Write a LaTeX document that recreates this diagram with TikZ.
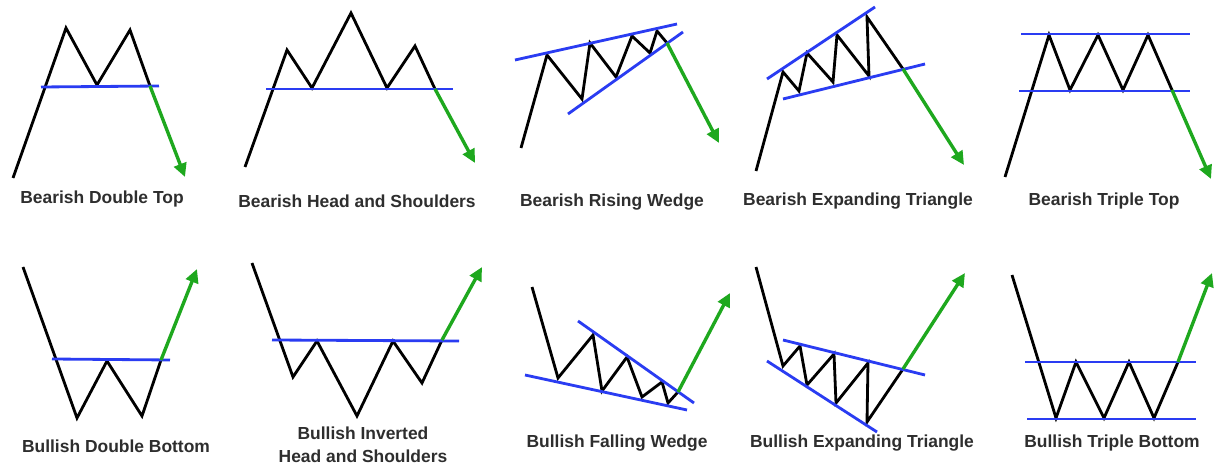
\documentclass[tikz,border=0pt]{standalone}
\usepackage{fontspec}
\setmainfont{Liberation Sans}
\usetikzlibrary{arrows.meta}
\definecolor{trendblue}{HTML}{2A3CF2}
\definecolor{breakgreen}{HTML}{1EA81E}
\definecolor{labelgray}{HTML}{2E2E2E}

\begin{document}
\begin{tikzpicture}[
    x=0.025cm, y=-0.025cm,
    price/.style={draw=black, line width=2pt},
    trend/.style={draw=trendblue, line width=2pt},
    breakout/.style={-{Triangle[length=0.34cm,width=0.32cm]}, draw=breakgreen, line width=2.4pt},
    caption/.style={font=\bfseries\fontsize{12.4}{16.3}\selectfont, text=labelgray, align=center, inner sep=0pt},
]
\useasboundingbox[fill=white] (0,0) rectangle (1218,465);

% Bearish Double Top
\coordinate (dt0) at (13,178);
\coordinate (dt1) at (66,28);
\coordinate (dt2) at (97,85);
\coordinate (dt3) at (130,30);
\coordinate (dt4) at (150,86);
\coordinate (dtL) at (41,87);
\coordinate (dtR) at (159,86);
\coordinate (dtT) at (185,177);
\draw[price] (dt0) -- (dt1) -- (dt2) -- (dt3) -- (dt4);
\draw[trend] (dtL) -- (dtR);
\draw[breakout] (dt4) -- (dtT);
\node[caption] (dtcap) at (102,199) {Bearish Double Top};

% Bearish Head and Shoulders
\coordinate (hs0) at (245,167);
\coordinate (hs1) at (287,50);
\coordinate (hs2) at (312,88);
\coordinate (hs3) at (351,13);
\coordinate (hs4) at (387,88);
\coordinate (hs5) at (415,46);
\coordinate (hs6) at (435,89);
\coordinate (hsL) at (266,89);
\coordinate (hsR) at (453,89);
\coordinate (hsT) at (475,163);
\draw[price] (hs0) -- (hs1) -- (hs2) -- (hs3) -- (hs4) -- (hs5) -- (hs6);
\draw[trend] (hsL) -- (hsR);
\draw[breakout] (hs6) -- (hsT);
\node[caption] (hscap) at (357,201) {Bearish Head and Shoulders};

% Bearish Rising Wedge
\coordinate (rw0) at (521,148);
\coordinate (rw1) at (547,55);
\coordinate (rw2) at (582,99);
\coordinate (rw3) at (590,43);
\coordinate (rw4) at (616,77);
\coordinate (rw5) at (632,36);
\coordinate (rw6) at (650,53);
\coordinate (rw7) at (657,31);
\coordinate (rw8) at (667,43);
\coordinate (rwUL) at (515,60);
\coordinate (rwUR) at (677,24);
\coordinate (rwLL) at (568,114);
\coordinate (rwLR) at (683,32);
\coordinate (rwT) at (719,143);
\draw[price] (rw0) -- (rw1) -- (rw2) -- (rw3) -- (rw4) -- (rw5) -- (rw6) -- (rw7) -- (rw8);
\draw[trend] (rwUL) -- (rwUR);
\draw[trend] (rwLL) -- (rwLR);
\draw[breakout] (rw8) -- (rwT);
\node[caption] (rwcap) at (612,202) {Bearish Rising Wedge};

% Bearish Expanding Triangle
\coordinate (et0) at (756,171);
\coordinate (et1) at (783,72);
\coordinate (et2) at (799,91);
\coordinate (et3) at (807,53);
\coordinate (et4) at (833,82);
\coordinate (et5) at (837,35);
\coordinate (et6) at (869,76);
\coordinate (et7) at (867,17);
\coordinate (et8) at (903,69);
\coordinate (etUL) at (767,79);
\coordinate (etUR) at (875,7);
\coordinate (etLL) at (783,99);
\coordinate (etLR) at (925,64);
\coordinate (etT) at (964,165);
\draw[price] (et0) -- (et1) -- (et2) -- (et3) -- (et4) -- (et5) -- (et6) -- (et7) -- (et8);
\draw[trend] (etUL) -- (etUR);
\draw[trend] (etLL) -- (etLR);
\draw[breakout] (et8) -- (etT);
\node[caption] (etcap) at (858,201) {Bearish Expanding Triangle};

% Bearish Triple Top
\coordinate (tt0) at (1005,177);
\coordinate (tt1) at (1049,35);
\coordinate (tt2) at (1070,90);
\coordinate (tt3) at (1098,35);
\coordinate (tt4) at (1123,90);
\coordinate (tt5) at (1148,35);
\coordinate (tt6) at (1172,90);
\coordinate (ttUL) at (1021,34);
\coordinate (ttUR) at (1190,34);
\coordinate (ttLL) at (1019,91);
\coordinate (ttLR) at (1190,91);
\coordinate (ttT) at (1211,179);
\draw[price] (tt0) -- (tt1) -- (tt2) -- (tt3) -- (tt4) -- (tt5) -- (tt6);
\draw[trend] (ttUL) -- (ttUR);
\draw[trend] (ttLL) -- (ttLR);
\draw[breakout] (tt6) -- (ttT);
\node[caption] (ttcap) at (1104,201) {Bearish Triple Top};

% Bullish Double Bottom
\coordinate (db0) at (23,267);
\coordinate (db1) at (77,418);
\coordinate (db2) at (107,361);
\coordinate (db3) at (142,416);
\coordinate (db4) at (161,360);
\coordinate (dbL) at (52,359);
\coordinate (dbR) at (170,360);
\coordinate (dbT) at (197,269);
\draw[price] (db0) -- (db1) -- (db2) -- (db3) -- (db4);
\draw[trend] (dbL) -- (dbR);
\draw[breakout] (db4) -- (dbT);
\node[caption] (dbcap) at (116,446) {Bullish Double Bottom};

% Bullish Inverted Head and Shoulders
\coordinate (ih0) at (252,263);
\coordinate (ih1) at (293,377);
\coordinate (ih2) at (317,341);
\coordinate (ih3) at (357,416);
\coordinate (ih4) at (393,341);
\coordinate (ih5) at (422,383);
\coordinate (ih6) at (442,340);
\coordinate (ihL) at (272,340);
\coordinate (ihR) at (459,341);
\coordinate (ihT) at (482,267);
\draw[price] (ih0) -- (ih1) -- (ih2) -- (ih3) -- (ih4) -- (ih5) -- (ih6);
\draw[trend] (ihL) -- (ihR);
\draw[breakout] (ih6) -- (ihT);
\node[caption] (ihcap) at (363,445) {Bullish Inverted\\Head and Shoulders};

% Bullish Falling Wedge
\coordinate (fw0) at (532,287);
\coordinate (fw1) at (558,378);
\coordinate (fw2) at (593,335);
\coordinate (fw3) at (602,391);
\coordinate (fw4) at (627,357);
\coordinate (fw5) at (642,397);
\coordinate (fw6) at (662,382);
\coordinate (fw7) at (668,403);
\coordinate (fw8) at (678,392);
\coordinate (fwUL) at (578,321);
\coordinate (fwUR) at (694,403);
\coordinate (fwLL) at (525,375);
\coordinate (fwLR) at (687,410);
\coordinate (fwT) at (730,293);
\draw[price] (fw0) -- (fw1) -- (fw2) -- (fw3) -- (fw4) -- (fw5) -- (fw6) -- (fw7) -- (fw8);
\draw[trend] (fwUL) -- (fwUR);
\draw[trend] (fwLL) -- (fwLR);
\draw[breakout] (fw8) -- (fwT);
\node[caption] (fwcap) at (617,443) {Bullish Falling Wedge};

% Bullish Expanding Triangle
\coordinate (eb0) at (756,267);
\coordinate (eb1) at (783,366);
\coordinate (eb2) at (800,346);
\coordinate (eb3) at (807,385);
\coordinate (eb4) at (834,354);
\coordinate (eb5) at (836,403);
\coordinate (eb6) at (868,363);
\coordinate (eb7) at (867,422);
\coordinate (eb8) at (903,369);
\coordinate (ebUL) at (783,340);
\coordinate (ebUR) at (925,375);
\coordinate (ebLL) at (767,361);
\coordinate (ebLR) at (877,432);
\coordinate (ebT) at (965,273);
\draw[price] (eb0) -- (eb1) -- (eb2) -- (eb3) -- (eb4) -- (eb5) -- (eb6) -- (eb7) -- (eb8);
\draw[trend] (ebUL) -- (ebUR);
\draw[trend] (ebLL) -- (ebLR);
\draw[breakout] (eb8) -- (ebT);
\node[caption] (ebcap) at (862,443) {Bullish Expanding Triangle};

% Bullish Triple Bottom
\coordinate (tb0) at (1012,275);
\coordinate (tb1) at (1056,418);
\coordinate (tb2) at (1076,362);
\coordinate (tb3) at (1104,418);
\coordinate (tb4) at (1129,362);
\coordinate (tb5) at (1154,418);
\coordinate (tb6) at (1178,362);
\coordinate (tbUL) at (1025,362);
\coordinate (tbUR) at (1196,362);
\coordinate (tbLL) at (1027,419);
\coordinate (tbLR) at (1196,419);
\coordinate (tbT) at (1212,273);
\draw[price] (tb0) -- (tb1) -- (tb2) -- (tb3) -- (tb4) -- (tb5) -- (tb6);
\draw[trend] (tbUL) -- (tbUR);
\draw[trend] (tbLL) -- (tbLR);
\draw[breakout] (tb6) -- (tbT);
\node[caption] (tbcap) at (1112,443) {Bullish Triple Bottom};
\end{tikzpicture}
\end{document}
